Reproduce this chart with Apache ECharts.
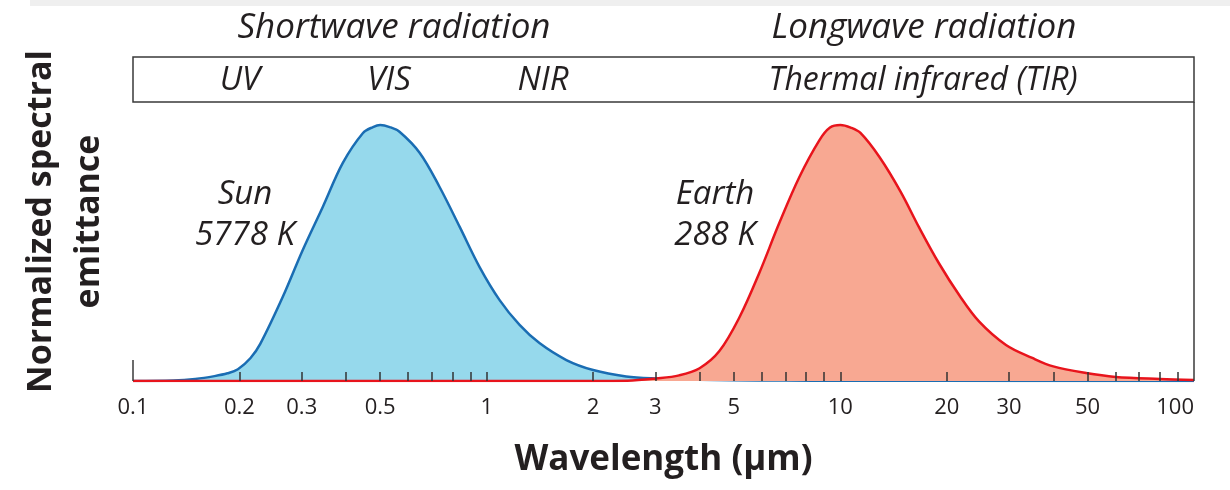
<!DOCTYPE html>
<html>
<head>
<meta charset="utf-8">
<script src="https://cdn.jsdelivr.net/npm/echarts@6/dist/echarts.min.js"></script>
<style>
html,body{margin:0;padding:0;background:#fff;}
#chart{width:1230px;height:490px;}
</style>
</head>
<body>
<div id="chart"></div>
<script>
// Sun (5778 K) normalized spectral emittance
const sunWavelength = [0.1, 0.13, 0.15, 0.17, 0.185, 0.198, 0.215, 0.229, 0.265, 0.302, 0.344, 0.392, 0.447, 0.477, 0.5, 0.532, 0.568, 0.647, 0.736, 0.839, 0.955, 1.088, 1.239, 1.41, 1.68, 2.0, 2.48, 3.0, 4, 5, 7, 10, 20, 50, 100];
const sunValue      = [0, 0.002, 0.008, 0.019, 0.03, 0.046, 0.09, 0.145, 0.328, 0.512, 0.68, 0.852, 0.969, 0.992, 1.0, 0.992, 0.973, 0.891, 0.758, 0.602, 0.445, 0.316, 0.219, 0.148, 0.082, 0.043, 0.018, 0.01, 0.005, 0.003, 0.0015, 0.001, 0.0005, 0.0002, 0];
// Earth (288 K)
const earthWavelength = [0.1, 2.0, 2.5, 3.02, 3.5, 4.0, 4.55, 5.19, 5.9, 6.72, 7.66, 8.73, 9.35, 10, 10.7, 11.4, 12.9, 14.8, 16.7, 19.0, 21.7, 24.7, 29.4, 34.9, 40, 49.5, 60, 80, 100];
const earthValue      = [0, 0, 0.001, 0.01, 0.022, 0.05, 0.117, 0.25, 0.422, 0.617, 0.797, 0.941, 0.99, 1.0, 0.99, 0.969, 0.875, 0.74, 0.6, 0.46, 0.335, 0.232, 0.141, 0.09, 0.057, 0.031, 0.016, 0.008, 0.004];
// Axis ticks and labels
const tickValues  = [0.2,0.3,0.4,0.5,0.6,0.7,0.8,0.9,1,2,3,4,5,6,7,8,9,10,20,30,40,50,60,70,80,90];
const labelValues = [0.1,0.2,0.3,0.5,1,2,3,5,10,20,30,50,100];
const bandLabels  = ['UV','VIS','NIR','Thermal infrared (TIR)'];
const regionTitles = ['Shortwave radiation','Longwave radiation'];
const sourceLabels = ['Sun\n5778 K','Earth\n288 K'];

const zip = (a,b) => a.map((v,i)=>[v,b[i]]);
const FONT = '"Open Sans", "Noto Sans", sans-serif';
const chart = echarts.init(document.getElementById('chart'), null, {renderer:'canvas'});

function txt(text, x, y, size, lh){
  return {type:'text', z:50, style:{text:text, x:x, y:y, fill:'#231f20', fontFamily:FONT, fontSize:size, fontStyle:'italic', align:'center', verticalAlign:'middle', lineHeight:lh||size*1.3}};
}

chart.setOption({
  animation:false,
  backgroundColor:'#ffffff',
  grid:{left:133, right:36, top:102, bottom:109},
  xAxis:{
    type:'log', logBase:10, min:0.1, max:100, z:10,
    name:'Wavelength (µm)', nameLocation:'middle', nameGap:62,
    nameTextStyle:{fontFamily:FONT, fontSize:35, fontWeight:'bold', color:'#231f20'},
    axisLine:{show:false},
    splitLine:{show:false},
    minorTick:{show:false},
    axisTick:{show:true, inside:true, length:9, lineStyle:{color:'#333', width:1.5}, customValues:tickValues},
    axisLabel:{customValues:labelValues, margin:16, fontFamily:FONT, fontSize:22, color:'#231f20', alignMaxLabel:'right', formatter:v=>String(v)}
  },
  yAxis:{
    type:'value', min:0, max:1.09,
    name:'Normalized spectral\nemittance', nameLocation:'middle', nameGap:20, nameRotate:90,
    nameTextStyle:{fontFamily:FONT, fontSize:34, fontWeight:'bold', color:'#231f20', lineHeight:48, padding:[0,0,0,40]},
    axisLine:{show:false}, axisTick:{show:false}, axisLabel:{show:false}, splitLine:{show:false}
  },
  series:[
    {type:'line', name:'Sun', data:zip(sunWavelength, sunValue), smooth:0.35, symbol:'none',
     lineStyle:{color:'#1a6db3', width:2.5}, areaStyle:{color:'#96d9ec', opacity:1}, z:2},
    {type:'line', name:'Earth', data:zip(earthWavelength, earthValue), smooth:0.35, symbol:'none',
     lineStyle:{color:'#e8141c', width:2.5}, areaStyle:{color:'#f8a892', opacity:1}, z:3}
  ],
  graphic:[
    {type:'rect', z:1, shape:{x:30, y:0, width:1200, height:6}, style:{fill:'#efefef'}},
    {type:'rect', z:40, shape:{x:133, y:57, width:1061, height:45}, style:{fill:'none', stroke:'#3a3a3a', lineWidth:1.5}},
    {type:'line', z:40, shape:{x1:1194, y1:102, x2:1194, y2:381}, style:{stroke:'#3a3a3a', lineWidth:1.5}},
    {type:'line', z:40, shape:{x1:133, y1:360, x2:133, y2:381}, style:{stroke:'#3a3a3a', lineWidth:1.5}},
    txt(regionTitles[0], 394, 28, 35),
    txt(regionTitles[1], 924, 28, 35),
    txt(bandLabels[0], 240, 81, 33),
    txt(bandLabels[1], 389, 81, 33),
    txt(bandLabels[2], 543, 81, 33),
    txt(bandLabels[3], 923, 81, 32),
    txt(sourceLabels[0], 245, 215, 33, 41),
    txt(sourceLabels[1], 715, 215, 33, 41)
  ]
});
</script>
</body>
</html>
